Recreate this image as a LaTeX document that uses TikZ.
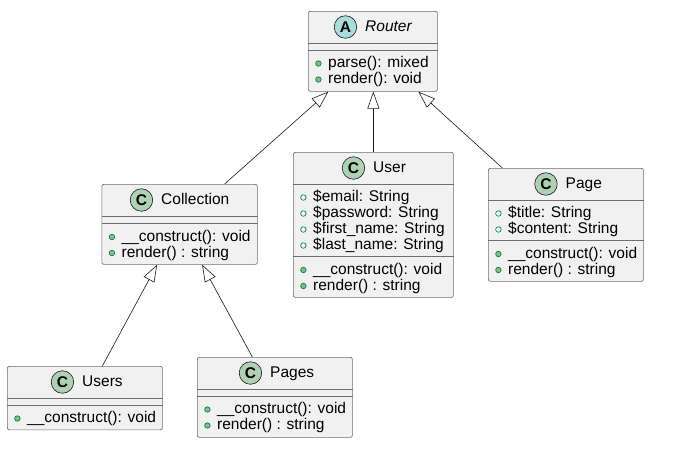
\documentclass[tikz,border=0pt]{standalone}
\usepackage{fontspec}
\setmainfont{Liberation Sans}
\usetikzlibrary{arrows.meta, positioning}
\definecolor{umlline}{RGB}{24,24,24}
\definecolor{umlborder}{RGB}{110,110,110}
\definecolor{umlfill}{RGB}{241,241,241}
\definecolor{classgreen}{RGB}{173,209,178}
\definecolor{abstractblue}{RGB}{169,220,223}
\definecolor{dotgreen}{RGB}{132,190,132}
\definecolor{dotdark}{RGB}{3,128,72}

\begin{document}
\begin{tikzpicture}[x=1pt, y=-1pt,
    classbox/.style={draw=umlborder, fill=umlfill, line width=0.7pt, rounded corners=2pt, anchor=north west, inner sep=0pt},
    classicon/.style={draw=umlline, circle, minimum size=22.5pt, inner sep=0pt, line width=0.6pt, font=\fontsize{15.5}{16}\selectfont\bfseries},
    classname/.style={anchor=base west, inner sep=0pt, text height=11pt, text depth=3pt, font=\fontsize{15.5}{18}\selectfont},
    sepline/.style={draw=umlborder, line width=0.7pt},
    member/.style={anchor=base west, inner sep=0pt, text height=11pt, text depth=3pt, font=\fontsize{15.5}{18}\selectfont},
    attr/.style={member, label={[xshift=-6.5pt, circle, draw=dotdark, fill=white, line width=0.7pt, minimum size=5.5pt, inner sep=0pt]left:{}}},
    method/.style={member, label={[xshift=-6.5pt, circle, draw=dotdark, fill=dotgreen, line width=0.7pt, minimum size=5.5pt, inner sep=0pt]left:{}}},
    extends/.style={draw=umlline, line width=0.6pt, -{Triangle[open, length=17pt, width=12pt]}}]
    \fill[white] (0,0) rectangle (695,459);
    \useasboundingbox (0,0) rectangle (695,459);

    % Router (abstract)
    \node[classbox, minimum width=129pt, minimum height=80pt] (router) at (308,11) {};
    \node[classname, font=\fontsize{15.5}{18}\selectfont\itshape] (router-name) at (365,31) {Router};
    \node[classicon, fill=abstractblue, left=8pt of router-name] (router-icon) {A};
    \draw[sepline] ([yshift=-32pt]router.north west) -- ([yshift=-32pt]router.north east);
    \draw[sepline] ([yshift=-39pt]router.north west) -- ([yshift=-39pt]router.north east);
    \node[method] (router-m1) at (328,67.5) {parse(): mixed};
    \node[method] (router-m2) at (328,83.5) {render(): void};

    % User
    \node[classbox, minimum width=160pt, minimum height=145pt] (user) at (293,152) {};
    \node[classname] (user-name) at (373,172) {User};
    \node[classicon, fill=classgreen, left=8pt of user-name] (user-icon) {C};
    \draw[sepline] ([yshift=-32pt]user.north west) -- ([yshift=-32pt]user.north east);
    \draw[sepline] ([yshift=-104.5pt]user.north west) -- ([yshift=-104.5pt]user.north east);
    \node[attr] (user-a1) at (313,201.5) {\$email: String};
    \node[attr] (user-a2) at (313,217.5) {\$password: String};
    \node[attr] (user-a3) at (313,233.5) {\$first\_name: String};
    \node[attr] (user-a4) at (313,249.5) {\$last\_name: String};
    \node[method] (user-m1) at (313,274) {\_\_construct(): void};
    \node[method] (user-m2) at (313,290) {render() : string};

    % Page
    \node[classbox, minimum width=155pt, minimum height=113pt] (page) at (488,168) {};
    \node[classname] (page-name) at (565.5,188) {Page};
    \node[classicon, fill=classgreen, left=8pt of page-name] (page-icon) {C};
    \draw[sepline] ([yshift=-32pt]page.north west) -- ([yshift=-32pt]page.north east);
    \draw[sepline] ([yshift=-72.5pt]page.north west) -- ([yshift=-72.5pt]page.north east);
    \node[attr] (page-a1) at (508,217.5) {\$title: String};
    \node[attr] (page-a2) at (508,233.5) {\$content: String};
    \node[method] (page-m1) at (508,258) {\_\_construct(): void};
    \node[method] (page-m2) at (508,274) {render() : string};

    % Collection
    \node[classbox, minimum width=155.5pt, minimum height=80pt] (collection) at (101.5,184) {};
    \node[classname] (collection-name) at (161,204) {Collection};
    \node[classicon, fill=classgreen, left=8pt of collection-name] (collection-icon) {C};
    \draw[sepline] ([yshift=-32pt]collection.north west) -- ([yshift=-32pt]collection.north east);
    \draw[sepline] ([yshift=-39pt]collection.north west) -- ([yshift=-39pt]collection.north east);
    \node[method] (collection-m1) at (121.5,241) {\_\_construct(): void};
    \node[method] (collection-m2) at (121.5,257) {render() : string};

    % Users
    \node[classbox, minimum width=155pt, minimum height=63.5pt] (users) at (7,366) {};
    \node[classname] (users-name) at (82,386) {Users};
    \node[classicon, fill=classgreen, left=8pt of users-name] (users-icon) {C};
    \draw[sepline] ([yshift=-32pt]users.north west) -- ([yshift=-32pt]users.north east);
    \draw[sepline] ([yshift=-39pt]users.north west) -- ([yshift=-39pt]users.north east);
    \node[method] (users-m1) at (27,422.5) {\_\_construct(): void};

    % Pages
    \node[classbox, minimum width=155pt, minimum height=80pt] (pages) at (197,357) {};
    \node[classname] (pages-name) at (270,377) {Pages};
    \node[classicon, fill=classgreen, left=8pt of pages-name] (pages-icon) {C};
    \draw[sepline] ([yshift=-32pt]pages.north west) -- ([yshift=-32pt]pages.north east);
    \draw[sepline] ([yshift=-39pt]pages.north west) -- ([yshift=-39pt]pages.north east);
    \node[method] (pages-m1) at (217,413.5) {\_\_construct(): void};
    \node[method] (pages-m2) at (217,429.5) {render() : string};

    % Arrows
    \draw[extends] ([xshift=45pt]collection.north) -- ([xshift=-44.5pt]router.south);
    \draw[extends] (user.north) -- (user.north |- router.south);
    \draw[extends] ([xshift=-63.5pt]page.north) -- ([xshift=45.5pt]router.south);
    \draw[extends] ([xshift=17.5pt]users.north) -- ([xshift=-22.5pt]collection.south);
    \draw[extends] ([xshift=-22.5pt]pages.north) -- ([xshift=22.5pt]collection.south);
\end{tikzpicture}
\end{document}
